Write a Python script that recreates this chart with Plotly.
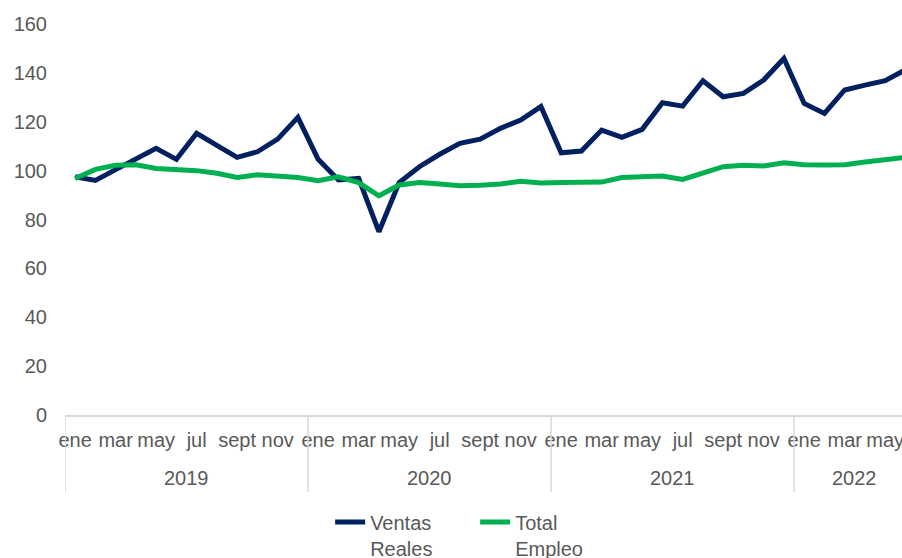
import plotly.graph_objects as go

years = ["2019", "2020", "2021", "2022"]
months_per_year = [12, 12, 12, 6]
month_names = ["ene", "feb", "mar", "abr", "may", "jun", "jul", "ago", "sept", "oct", "nov", "dic"]

ventas_reales = [97.5, 96.0, 100.4, 104.7, 109.1, 104.6, 115.3, 110.3, 105.4, 107.7, 112.9, 121.8,
                 104.6, 96.2, 96.8, 75.0, 95.1, 101.6, 106.7, 111.2, 112.9, 117.3, 120.7, 126.2,
                 107.3, 108.0, 116.6, 113.6, 116.9, 127.8, 126.4, 136.8, 130.2, 131.6, 137.1, 145.9,
                 127.5, 123.4, 133.0, 135.0, 136.8, 141.3]

total_empleo = [96.8, 100.5, 102.2, 102.4, 100.9, 100.5, 100.0, 98.9, 97.2, 98.3, 97.8, 97.2,
                95.9, 97.5, 95.1, 89.7, 94.1, 95.1, 94.5, 93.8, 94.0, 94.5, 95.6, 94.9,
                95.1, 95.1, 95.3, 97.2, 97.5, 97.8, 96.4, 98.9, 101.6, 102.2, 101.9, 103.2,
                102.4, 102.3, 102.4, 103.5, 104.6, 105.4]

y_ticks = [0, 20, 40, 60, 80, 100, 120, 140, 160]

# Build month index
labels = []
for y, n in zip(years, months_per_year):
    for m in range(n):
        labels.append(month_names[m])
x = list(range(len(labels)))

tickvals = [i for i in x if i % 2 == 0]
ticktext = [labels[i] for i in tickvals]

FONT = "Liberation Sans, Arial, sans-serif"
GRAY = "#595959"
LINEGRAY = "#d9d9d9"
FS = 20

fig = go.Figure()
fig.add_trace(go.Scatter(x=x, y=ventas_reales, mode="lines", name="Ventas<br>Reales",
                         line=dict(color="#002060", width=5)))
fig.add_trace(go.Scatter(x=x, y=total_empleo, mode="lines", name="Total<br>Empleo",
                         line=dict(color="#00b050", width=5)))

# Year dividers and labels
shapes = []
annotations = []
start = 0
for y, n in zip(years, months_per_year):
    shapes.append(dict(type="line", xref="x", yref="paper", x0=start - 0.5, x1=start - 0.5,
                       y0=0, y1=-0.197, line=dict(color=LINEGRAY, width=1.5)))
    annotations.append(dict(x=start + (n - 1) / 2, y=-0.161, xref="x", yref="paper",
                            text=y, showarrow=False, yanchor="middle",
                            font=dict(family=FONT, size=FS, color=GRAY)))
    start += n

fig.update_layout(
    width=902, height=558,
    margin=dict(l=65, r=0, t=24, b=143, autoexpand=False),
    paper_bgcolor="white", plot_bgcolor="white",
    font=dict(family=FONT, size=FS, color=GRAY),
    showlegend=True,
    legend=dict(orientation="h", x=0.49, xanchor="center", y=-0.224, yanchor="top",
                font=dict(family=FONT, size=FS, color=GRAY), valign="top",
                traceorder="normal", entrywidth=100),
    shapes=shapes,
    annotations=annotations,
    xaxis=dict(range=[-0.5, 40.83], tickvals=tickvals, ticktext=ticktext, tickangle=0,
               showgrid=False, zeroline=False, showline=True, linecolor=LINEGRAY, linewidth=1.5,
               ticks="", ticklabelstandoff=6, automargin=False, ticklabeloverflow="allow",
               tickfont=dict(family=FONT, size=FS, color=GRAY)),
    yaxis=dict(range=[0, 160], tickvals=y_ticks, showgrid=False, zeroline=False,
               showline=False, ticks="", ticklabelstandoff=17, automargin=False,
               tickfont=dict(family=FONT, size=FS, color=GRAY)),
)

fig.write_html("out.html", config={"displayModeBar": False},
               post_script="document.body.style.margin='0px';document.body.style.overflow='hidden';")
